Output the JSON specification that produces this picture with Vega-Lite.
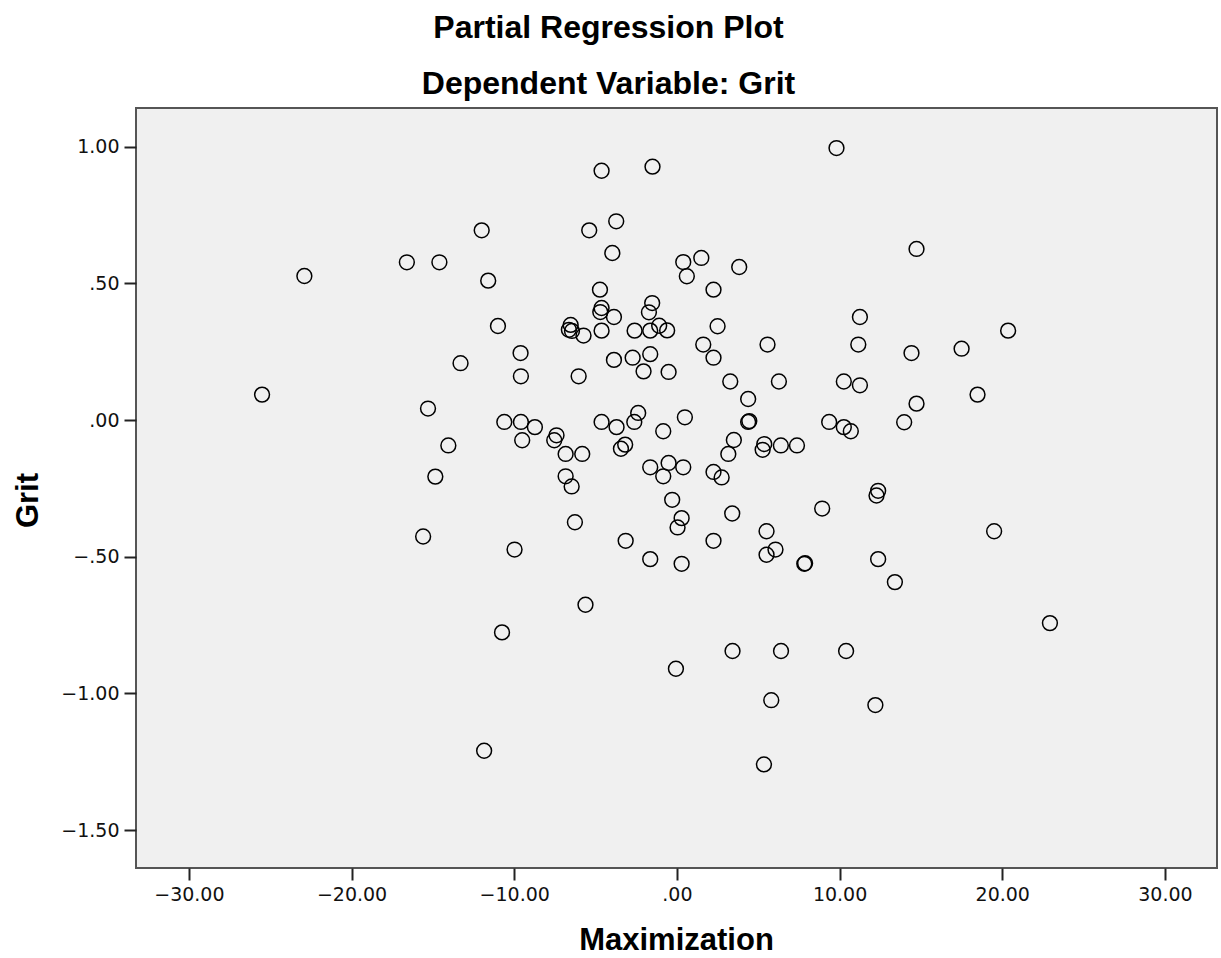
{
  "$schema": "https://vega.github.io/schema/vega-lite/v6.json",
  "width": 1081,
  "height": 760,
  "autosize": {"type": "none"},
  "padding": {"left": 136, "top": 108, "right": 4, "bottom": 90},
  "background": "white",
  "config": {
    "view": {"fill": "#f0f0f0", "stroke": "#555555", "strokeWidth": 2},
    "font": "Liberation Sans"
  },
  "title": {
    "text": ["Partial Regression Plot", "Dependent Variable: Grit"],
    "font": "Liberation Sans",
    "fontSize": 32,
    "fontWeight": "bold",
    "color": "#000000",
    "lineHeight": 56,
    "anchor": "middle",
    "dx": -68,
    "dy": 3,
    "offset": 10
  },
  "data": {
    "values": [
      {"maximization": -25.5, "grit": 0.093},
      {"maximization": -22.9, "grit": 0.527},
      {"maximization": -16.6, "grit": 0.577},
      {"maximization": -14.6, "grit": 0.577},
      {"maximization": -12.0, "grit": 0.694},
      {"maximization": -11.6, "grit": 0.51},
      {"maximization": -11.0, "grit": 0.344},
      {"maximization": -13.3, "grit": 0.208},
      {"maximization": -15.3, "grit": 0.042},
      {"maximization": -14.05, "grit": -0.093},
      {"maximization": -14.85, "grit": -0.207},
      {"maximization": -15.6, "grit": -0.426},
      {"maximization": -9.98, "grit": -0.474},
      {"maximization": -10.75, "grit": -0.777},
      {"maximization": -11.85, "grit": -1.21},
      {"maximization": 9.81, "grit": 0.995},
      {"maximization": -4.63, "grit": 0.912},
      {"maximization": -1.5, "grit": 0.927},
      {"maximization": -5.39, "grit": 0.694},
      {"maximization": -3.73, "grit": 0.727},
      {"maximization": -3.97, "grit": 0.611},
      {"maximization": 0.39, "grit": 0.578},
      {"maximization": 1.5, "grit": 0.593},
      {"maximization": 0.61, "grit": 0.526},
      {"maximization": 3.83, "grit": 0.56},
      {"maximization": -4.73, "grit": 0.477},
      {"maximization": 2.25, "grit": 0.477},
      {"maximization": -4.63, "grit": 0.41},
      {"maximization": -4.71, "grit": 0.395},
      {"maximization": -3.87, "grit": 0.377},
      {"maximization": -1.52, "grit": 0.428},
      {"maximization": -1.72, "grit": 0.394},
      {"maximization": -6.53, "grit": 0.348},
      {"maximization": -6.64, "grit": 0.33},
      {"maximization": -6.45, "grit": 0.326},
      {"maximization": -5.74, "grit": 0.309},
      {"maximization": -4.63, "grit": 0.327},
      {"maximization": -2.6, "grit": 0.327},
      {"maximization": -1.64, "grit": 0.327},
      {"maximization": -1.09, "grit": 0.345},
      {"maximization": -0.6, "grit": 0.328},
      {"maximization": 2.5, "grit": 0.343},
      {"maximization": 1.62, "grit": 0.276},
      {"maximization": 5.57, "grit": 0.276},
      {"maximization": -9.61, "grit": 0.245},
      {"maximization": -3.87, "grit": 0.22},
      {"maximization": -2.72, "grit": 0.228},
      {"maximization": -1.64, "grit": 0.241},
      {"maximization": 2.25, "grit": 0.228},
      {"maximization": -9.59, "grit": 0.16},
      {"maximization": -6.04, "grit": 0.16},
      {"maximization": -2.05, "grit": 0.178},
      {"maximization": -0.51, "grit": 0.176},
      {"maximization": 3.28, "grit": 0.141},
      {"maximization": 6.27, "grit": 0.141},
      {"maximization": 10.26, "grit": 0.141},
      {"maximization": 4.38, "grit": 0.077},
      {"maximization": -10.61, "grit": -0.007},
      {"maximization": -9.59, "grit": -0.007},
      {"maximization": -8.73, "grit": -0.026},
      {"maximization": -9.51, "grit": -0.074},
      {"maximization": -7.4, "grit": -0.056},
      {"maximization": -7.54, "grit": -0.074},
      {"maximization": -6.84, "grit": -0.124},
      {"maximization": -5.82, "grit": -0.124},
      {"maximization": -6.84, "grit": -0.206},
      {"maximization": -6.47, "grit": -0.243},
      {"maximization": -6.27, "grit": -0.374},
      {"maximization": -5.62, "grit": -0.676},
      {"maximization": -4.63, "grit": -0.007},
      {"maximization": -3.71, "grit": -0.026},
      {"maximization": -2.62, "grit": -0.007},
      {"maximization": -2.38, "grit": 0.026},
      {"maximization": -3.44, "grit": -0.105},
      {"maximization": -3.18, "grit": -0.09},
      {"maximization": -0.84, "grit": -0.041},
      {"maximization": 0.49, "grit": 0.01},
      {"maximization": -1.64, "grit": -0.173},
      {"maximization": -0.51, "grit": -0.157},
      {"maximization": -0.84, "grit": -0.206},
      {"maximization": 0.39, "grit": -0.173},
      {"maximization": -0.29, "grit": -0.292},
      {"maximization": 0.29, "grit": -0.359},
      {"maximization": 0.04, "grit": -0.393},
      {"maximization": -3.15, "grit": -0.442},
      {"maximization": -1.64, "grit": -0.509},
      {"maximization": 0.29, "grit": -0.526},
      {"maximization": 2.25, "grit": -0.442},
      {"maximization": 3.4, "grit": -0.342},
      {"maximization": 2.25, "grit": -0.19},
      {"maximization": 2.75, "grit": -0.21},
      {"maximization": 3.16, "grit": -0.124},
      {"maximization": 3.5, "grit": -0.073},
      {"maximization": 4.38, "grit": -0.007},
      {"maximization": 4.45, "grit": -0.004},
      {"maximization": 5.37, "grit": -0.088},
      {"maximization": 5.27, "grit": -0.109},
      {"maximization": 6.39, "grit": -0.093},
      {"maximization": 7.38, "grit": -0.093},
      {"maximization": 9.36, "grit": -0.007},
      {"maximization": 10.26, "grit": -0.026},
      {"maximization": 10.69, "grit": -0.041},
      {"maximization": 8.93, "grit": -0.324},
      {"maximization": 5.51, "grit": -0.407},
      {"maximization": 6.06, "grit": -0.474},
      {"maximization": 5.51, "grit": -0.493},
      {"maximization": 7.83, "grit": -0.526},
      {"maximization": 7.88, "grit": -0.524},
      {"maximization": 14.73, "grit": 0.626},
      {"maximization": 11.25, "grit": 0.377},
      {"maximization": 11.15, "grit": 0.276},
      {"maximization": 20.36, "grit": 0.327},
      {"maximization": 17.5, "grit": 0.261},
      {"maximization": 14.42, "grit": 0.245},
      {"maximization": 11.25, "grit": 0.127},
      {"maximization": 18.48, "grit": 0.093},
      {"maximization": 14.73, "grit": 0.06},
      {"maximization": 13.97, "grit": -0.008},
      {"maximization": 12.37, "grit": -0.259},
      {"maximization": 12.27, "grit": -0.276},
      {"maximization": 19.5, "grit": -0.407},
      {"maximization": 12.37, "grit": -0.509},
      {"maximization": 13.4, "grit": -0.593},
      {"maximization": 22.93, "grit": -0.743},
      {"maximization": 3.42, "grit": -0.845},
      {"maximization": 6.4, "grit": -0.845},
      {"maximization": 10.4, "grit": -0.845},
      {"maximization": -0.06, "grit": -0.91},
      {"maximization": 5.8, "grit": -1.025},
      {"maximization": 12.2, "grit": -1.043},
      {"maximization": 5.35, "grit": -1.26}
    ]
  },
  "mark": {
    "type": "point",
    "shape": "circle",
    "filled": false,
    "stroke": "#000000",
    "strokeWidth": 1.5,
    "size": 220,
    "opacity": 1
  },
  "encoding": {
    "x": {
      "field": "maximization",
      "type": "quantitative",
      "scale": {"domain": [-33.25, 33.2], "nice": false, "zero": false},
      "axis": {
        "title": "Maximization",
        "values": [-30, -20, -10, 0, 10, 20, 30],
        "grid": false,
        "domain": false,
        "tickSize": 12,
        "tickWidth": 2,
        "tickColor": "#222222",
        "labelFont": "DejaVu Sans",
        "labelFontSize": 19,
        "labelColor": "#111111",
        "labelPadding": 5,
        "labelExpr": "abs(datum.value) < 1 ? (datum.value < 0 ? '−' : '') + substring(format(abs(datum.value), '.2f'), 1) : format(datum.value, '.2f')",
        "titleFont": "Liberation Sans",
        "titleFontSize": 31,
        "titleFontWeight": "bold",
        "titleColor": "#000000",
        "titleX": 540,
        "titleY": 72,
        "titleAlign": "center",
        "titleBaseline": "middle"
      }
    },
    "y": {
      "field": "grit",
      "type": "quantitative",
      "scale": {"domain": [-1.639, 1.1416], "nice": false, "zero": false},
      "axis": {
        "title": "Grit",
        "values": [-1.5, -1, -0.5, 0, 0.5, 1],
        "grid": false,
        "domain": false,
        "tickSize": 12,
        "tickWidth": 2,
        "tickColor": "#222222",
        "labelFont": "DejaVu Sans",
        "labelFontSize": 19,
        "labelColor": "#111111",
        "labelPadding": 5,
        "labelExpr": "abs(datum.value) < 1 ? (datum.value < 0 ? '−' : '') + substring(format(abs(datum.value), '.2f'), 1) : format(datum.value, '.2f')",
        "titleFont": "Liberation Sans",
        "titleFontSize": 31,
        "titleFontWeight": "bold",
        "titleColor": "#000000",
        "titleAngle": -90,
        "titleX": -108,
        "titleY": 392,
        "titleAlign": "center",
        "titleBaseline": "middle"
      }
    }
  }
}
